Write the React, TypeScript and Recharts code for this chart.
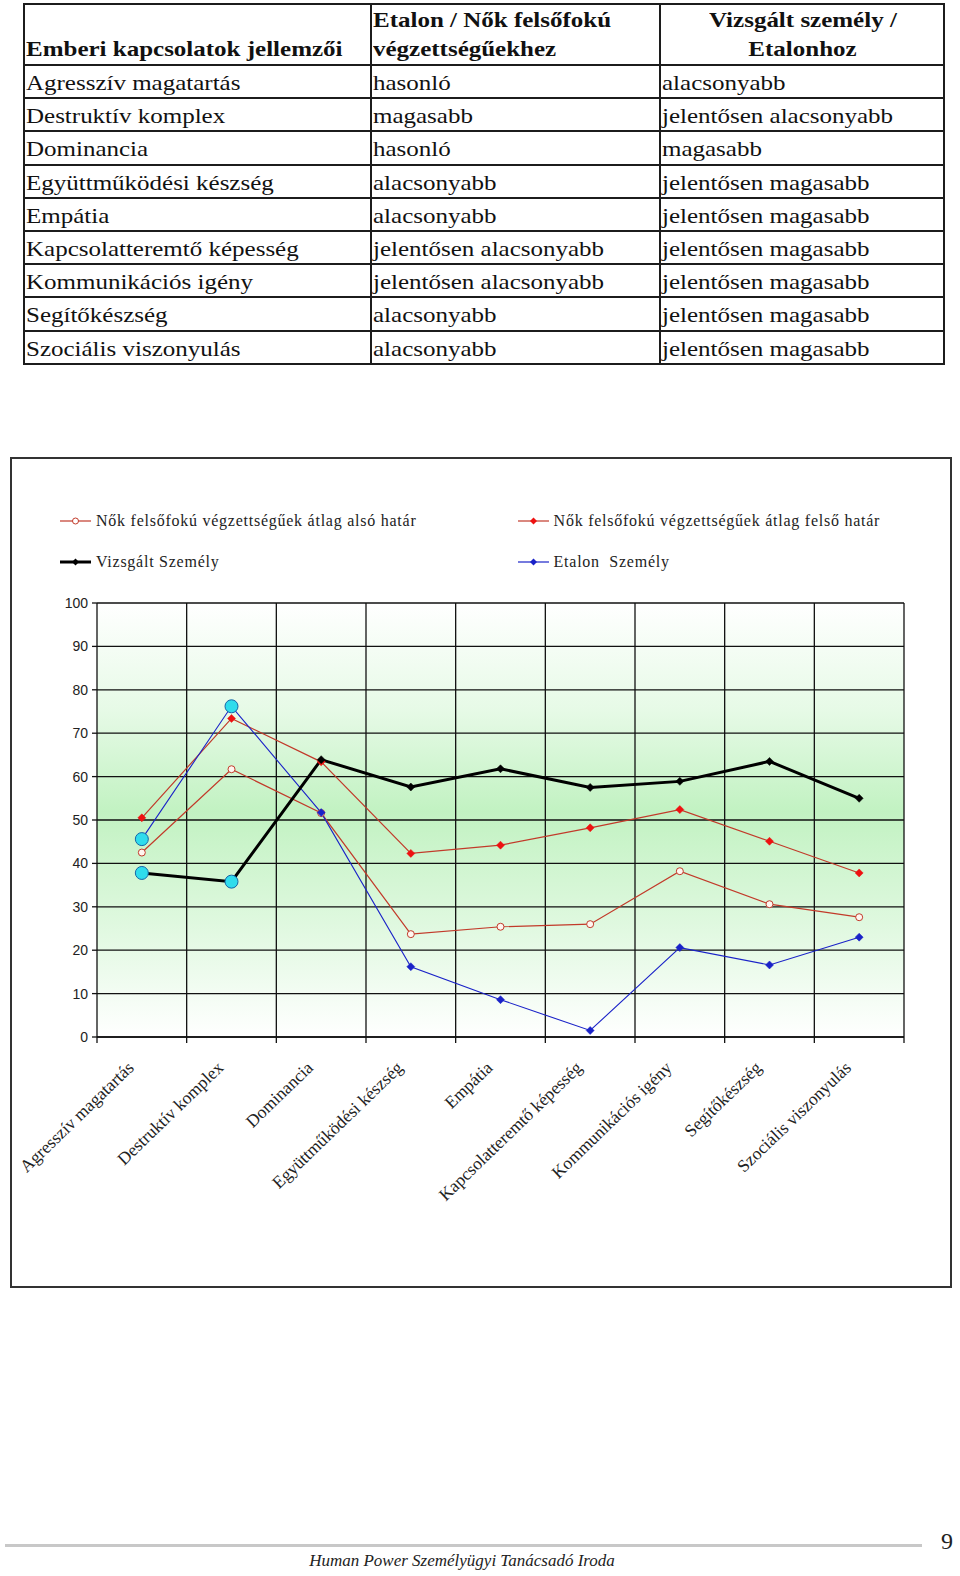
import React from "react";
import { LineChart, Line, XAxis, YAxis, CartesianGrid, Legend } from "recharts";

// emberi kapcsolatok jellemzői
const categories = [
  "Agresszív magatartás",
  "Destruktív komplex",
  "Dominancia",
  "Együttműködési készség",
  "Empátia",
  "Kapcsolatteremtő képesség",
  "Kommunikációs igény",
  "Segítőkészség",
  "Szociális viszonyulás",
];

const etalonVsNok = [
  "hasonló",
  "magasabb",
  "hasonló",
  "alacsonyabb",
  "alacsonyabb",
  "jelentősen alacsonyabb",
  "jelentősen alacsonyabb",
  "alacsonyabb",
  "alacsonyabb",
];

const vizsgaltVsEtalon = [
  "alacsonyabb",
  "jelentősen alacsonyabb",
  "magasabb",
  "jelentősen magasabb",
  "jelentősen magasabb",
  "jelentősen magasabb",
  "jelentősen magasabb",
  "jelentősen magasabb",
  "jelentősen magasabb",
];

const nokAlso = [42.5, 61.7, 51.6, 23.7, 25.4, 26, 38.2, 30.6, 27.6];
const nokFelso = [50.5, 73.4, 63.4, 42.3, 44.2, 48.2, 52.4, 45.1, 37.8];
const vizsgalt = [37.8, 35.8, 63.9, 57.6, 61.8, 57.5, 58.9, 63.5, 55];
const etalon = [45.6, 76.2, 51.7, 16.2, 8.6, 1.5, 20.6, 16.6, 23];
const kiemelt = [0, 1]; // cyan-nal jelölt kategóriák

const yTicks = [0, 10, 20, 30, 40, 50, 60, 70, 80, 90, 100];

const chartData = categories.map((name, i) => ({
  x: i + 0.5,
  name,
  nokAlso: nokAlso[i],
  nokFelso: nokFelso[i],
  vizsgalt: vizsgalt[i],
  etalon: etalon[i],
}));
const boundaryTicks = [...categories.map((_, i) => i), categories.length];
const centerTicks = categories.map((_, i) => i + 0.5);

const RED_LINE = "#c23a2a";
const RED = "#ee1111";
const BLUE = "#1a22c8";
const CYAN = "#2fdcec";

const serif = "'Liberation Serif', 'Times New Roman', serif";
const sans = "'Liberation Sans', Arial, sans-serif";

const diamond = (cx: number, cy: number, r: number) =>
  `M${cx},${cy - r}L${cx + r},${cy}L${cx},${cy + r}L${cx - r},${cy}Z`;

const makeDiamondDot = (color: string, highlight: boolean) => (p: any) => {
  const { cx, cy, index } = p;
  if (cx == null || cy == null) return <g key={index} />;
  if (highlight && kiemelt.includes(index)) {
    return (
      <circle key={index} cx={cx} cy={cy} r={6.5} fill={CYAN} stroke="#1565a8" strokeWidth={1} />
    );
  }
  return <path key={index} d={diamond(cx, cy, 4)} fill={color} stroke={color} strokeWidth={0.5} />;
};

const openCircleDot = (p: any) => {
  const { cx, cy, index } = p;
  if (cx == null || cy == null) return <g key={index} />;
  return <circle key={index} cx={cx} cy={cy} r={3.5} fill="#fff6f0" stroke={RED_LINE} strokeWidth={1} />;
};

// only the tick line is wanted on the boundary axis
const EmptyTick = () => <g />;

const CategoryTick = (props: any) => {
  const { x, y, payload } = props;
  const name = categories[Math.floor(payload.value)];
  const ax = x - 7;
  const ay = y + 26;
  return (
    <text
      x={ax}
      y={ay}
      transform={`rotate(-44 ${ax} ${ay})`}
      textAnchor="end"
      fontFamily={serif}
      fontSize={17.5}
      fill="#222"
    >
      {name}
    </text>
  );
};

const legendItems = [
  { label: "Nők felsőfokú végzettségűek átlag alsó határ", kind: "open", left: 48, top: 61.6 },
  { label: "Nők felsőfokú végzettségűek átlag felső határ", kind: "red", left: 505.6, top: 61.6 },
  { label: "Vizsgált Személy", kind: "black", left: 48, top: 102.8 },
  { label: "Etalon  Személy", kind: "blue", left: 505.6, top: 102.8 },
];

const LegendMarker = ({ kind }: { kind: string }) => {
  const color = kind === "black" ? "#000" : kind === "blue" ? BLUE : RED_LINE;
  const width = kind === "black" ? 3 : 1.2;
  return (
    <svg width={31} height={12} style={{ display: "block" }}>
      <line x1={0} y1={6} x2={31} y2={6} stroke={color} strokeWidth={width} />
      {kind === "open" ? (
        <circle cx={15.5} cy={6} r={3} fill="#fff" stroke={RED_LINE} strokeWidth={1} />
      ) : (
        <path d={diamond(15.5, 6, 3.5)} fill={kind === "red" ? RED : color} />
      )}
    </svg>
  );
};

const ChartLegend = () => (
  <div style={{ position: "relative", width: 938, height: 130 }}>
    {legendItems.map((it) => (
      <div
        key={it.label}
        style={{
          position: "absolute",
          left: it.left,
          top: it.top - 10,
          height: 20,
          display: "flex",
          alignItems: "center",
          whiteSpace: "pre",
        }}
      >
        <LegendMarker kind={it.kind} />
        <span style={{ marginLeft: 5, fontFamily: serif, fontSize: 16, letterSpacing: 0.75, color: "#222" }}>
          {it.label}
        </span>
      </div>
    ))}
  </div>
);

const cellBorder = "2px solid #1c1c1c";
const colWidths = [347, 289, 284];

const Stretch = ({ children, origin = "left" }: { children: React.ReactNode; origin?: string }) => (
  <span style={{ display: "inline-block", transform: "scaleX(1.19)", transformOrigin: origin, whiteSpace: "nowrap" }}>
    {children}
  </span>
);

const cellStyle: React.CSSProperties = {
  border: cellBorder,
  padding: "5px 0 0 1px",
  verticalAlign: "top",
  fontSize: 21,
  lineHeight: "24px",
  color: "#111",
  overflow: "visible",
};

const headStyle: React.CSSProperties = {
  ...cellStyle,
  fontWeight: "bold",
  lineHeight: "29px",
  padding: "1px 0 0 1px",
};

const DataTable = () => (
  <table
    style={{
      position: "absolute",
      left: 23,
      top: 3,
      borderCollapse: "collapse",
      tableLayout: "fixed",
      width: 920,
      fontFamily: serif,
    }}
  >
    <colgroup>
      {colWidths.map((w, i) => (
        <col key={i} style={{ width: w }} />
      ))}
    </colgroup>
    <tbody>
      <tr style={{ height: 60 }}>
        <td style={{ ...headStyle, verticalAlign: "bottom", padding: "0 0 0 1px" }}>
          <Stretch>Emberi kapcsolatok jellemzői</Stretch>
        </td>
        <td style={headStyle}>
          <Stretch>Etalon / Nők felsőfokú</Stretch>
          <br />
          <Stretch>végzettségűekhez</Stretch>
        </td>
        <td style={{ ...headStyle, textAlign: "center" }}>
          <Stretch origin="center">Vizsgált személy /</Stretch>
          <br />
          <Stretch origin="center">Etalonhoz</Stretch>
        </td>
      </tr>
      {categories.map((c, i) => (
        <tr key={c} style={{ height: 33.2 }}>
          <td style={cellStyle}>
            <Stretch>{c}</Stretch>
          </td>
          <td style={cellStyle}>
            <Stretch>{etalonVsNok[i]}</Stretch>
          </td>
          <td style={cellStyle}>
            <Stretch>{vizsgaltVsEtalon[i]}</Stretch>
          </td>
        </tr>
      ))}
    </tbody>
  </table>
);

export default function App() {
  return (
    <div
      style={{
        position: "absolute",
        top: 0,
        left: 0,
        width: 960,
        height: 1576,
        background: "#fff",
        fontFamily: serif,
        overflow: "hidden",
      }}
    >
      <DataTable />

      <div
        style={{
          position: "absolute",
          left: 10,
          top: 457,
          width: 942,
          height: 831,
          border: "2px solid #333",
          boxSizing: "border-box",
          background: "#fff",
        }}
      >
        <LineChart
          width={938}
          height={827}
          data={chartData}
          margin={{ top: 144, right: 46, left: 5, bottom: 0 }}
          style={{ overflow: "visible" }}
        >
          <defs>
            <linearGradient id="plotBg" x1="0" y1="0" x2="0" y2="1">
              <stop offset="0%" stopColor="#ffffff" />
              <stop offset="25%" stopColor="#e6fae6" />
              <stop offset="48%" stopColor="#c2f2c2" />
              <stop offset="72%" stopColor="#ddf8dd" />
              <stop offset="100%" stopColor="#ffffff" />
            </linearGradient>
          </defs>
          <CartesianGrid stroke="#111" strokeWidth={1.3} fill="url(#plotBg)" fillOpacity={1} />
          <XAxis
            dataKey="x"
            type="number"
            domain={[0, categories.length]}
            ticks={boundaryTicks}
            interval={0}
            tickSize={6}
            tick={<EmptyTick />}
            axisLine={{ stroke: "#111", strokeWidth: 1.3 }}
            tickLine={{ stroke: "#111", strokeWidth: 1.3 }}
            height={6}
          />
          <XAxis
            xAxisId="lab"
            dataKey="x"
            type="number"
            domain={[0, categories.length]}
            ticks={centerTicks}
            interval={0}
            axisLine={false}
            tickLine={false}
            tickSize={0}
            tickMargin={0}
            tick={<CategoryTick />}
            height={243}
          />
          <YAxis
            type="number"
            domain={[0, 100]}
            ticks={yTicks}
            interval={0}
            width={80}
            axisLine={false}
            tickSize={5}
            tickMargin={4}
            tickLine={{ stroke: "#111", strokeWidth: 1.3 }}
            tick={{ fontFamily: sans, fontSize: 14, fill: "#222" }}
          />
          <Legend
            layout="horizontal"
            verticalAlign="middle"
            align="center"
            content={<ChartLegend />}
            wrapperStyle={{ top: 0, left: 0, width: 938, height: 130 }}
          />
          <Line
            dataKey="nokAlso"
            stroke={RED_LINE}
            strokeWidth={1.2}
            dot={openCircleDot}
            activeDot={false}
            isAnimationActive={false}
          />
          <Line
            dataKey="nokFelso"
            stroke={RED_LINE}
            strokeWidth={1.2}
            dot={makeDiamondDot(RED, false)}
            activeDot={false}
            isAnimationActive={false}
          />
          <Line
            dataKey="etalon"
            stroke={BLUE}
            strokeWidth={1.1}
            dot={makeDiamondDot(BLUE, true)}
            activeDot={false}
            isAnimationActive={false}
          />
          <Line
            dataKey="vizsgalt"
            stroke="#000"
            strokeWidth={3}
            dot={makeDiamondDot("#000", true)}
            activeDot={false}
            isAnimationActive={false}
          />
        </LineChart>
      </div>

      <div style={{ position: "absolute", left: 5, top: 1544, width: 917, height: 3, background: "#c8c8c8" }} />
      <div style={{ position: "absolute", left: 941, top: 1528, fontFamily: serif, fontSize: 24, color: "#222" }}>9</div>
      <div
        style={{
          position: "absolute",
          left: 0,
          width: 924,
          top: 1551,
          textAlign: "center",
          fontFamily: serif,
          fontStyle: "italic",
          fontSize: 17,
          color: "#222",
        }}
      >
        Human Power Személyügyi Tanácsadó Iroda
      </div>
    </div>
  );
}
